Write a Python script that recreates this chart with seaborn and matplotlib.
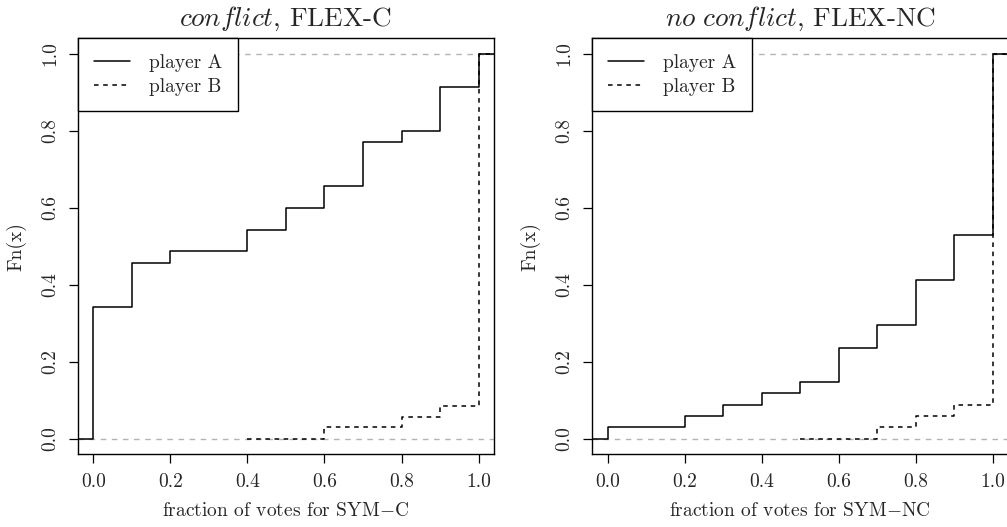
import pandas as pd
import matplotlib.pyplot as plt
import seaborn as sns
from matplotlib.lines import Line2D

conf_a_knots = [0.0, 0.1, 0.2, 0.4, 0.5, 0.6, 0.7, 0.8, 0.9, 1.0]
conf_a_fn = [0.343, 0.457, 0.486, 0.543, 0.600, 0.657, 0.771, 0.800, 0.914, 1.0]
conf_b_knots = [0.6, 0.8, 0.9, 1.0]
conf_b_fn = [0.029, 0.057, 0.086, 1.0]
conf_b_start = 0.4

noconf_a_knots = [0.0, 0.2, 0.3, 0.4, 0.5, 0.6, 0.7, 0.8, 0.9, 1.0]
noconf_a_fn = [0.029, 0.059, 0.088, 0.118, 0.147, 0.235, 0.294, 0.412, 0.529, 1.0]
noconf_b_knots = [0.7, 0.8, 0.9, 1.0]
noconf_b_fn = [0.029, 0.059, 0.088, 1.0]
noconf_b_start = 0.5

titles = [r'$\mathit{conflict}$, FLEX-C', r'$\mathit{no\ conflict}$, FLEX-NC']
xlabels = ['fraction of votes for SYM$-$C', 'fraction of votes for SYM$-$NC']
ticks = [0.0, 0.2, 0.4, 0.6, 0.8, 1.0]
tick_labels = ['0.0', '0.2', '0.4', '0.6', '0.8', '1.0']

XLIM = (-0.04, 1.04)
YLIM = (-0.04, 1.04)


def step_frame(knots, fn, start):
    # horizontal at 0 from start, then the steps, carried on to the right edge
    xs = [start] + knots + [XLIM[1]]
    ys = [0.0] + fn + [fn[-1]]
    return pd.DataFrame({'x': xs, 'Fn': ys})


sns.set_theme(style='ticks')
plt.rcParams['font.family'] = 'cmr10'
plt.rcParams['mathtext.fontset'] = 'cm'
plt.rcParams['axes.unicode_minus'] = False
plt.rcParams['axes.formatter.use_mathtext'] = True

fig = plt.figure(figsize=(10.07, 5.27), dpi=100)
positions = [[0.0775, 0.1385, 0.413, 0.789], [0.588, 0.1385, 0.413, 0.789]]

panels = [
    (conf_a_knots, conf_a_fn, conf_b_knots, conf_b_fn, conf_b_start),
    (noconf_a_knots, noconf_a_fn, noconf_b_knots, noconf_b_fn, noconf_b_start),
]

for i, (ak, af, bk, bf, bs) in enumerate(panels):
    ax = fig.add_axes(positions[i])
    ax.axhline(0, color='#b3b3b3', lw=1, ls=(0, (4, 4)), zorder=1)
    ax.axhline(1, color='#b3b3b3', lw=1, ls=(0, (4, 4)), zorder=1)

    df_a = step_frame(ak, af, XLIM[0])
    df_b = step_frame(bk, bf, bs)
    sns.lineplot(data=df_a, x='x', y='Fn', ax=ax, color='black', lw=1.1,
                 drawstyle='steps-post', sort=False, zorder=3)
    sns.lineplot(data=df_b, x='x', y='Fn', ax=ax, color='black', lw=1.1,
                 drawstyle='steps-post', sort=False, zorder=3,
                 linestyle=(0, (3, 3)))

    ax.set_xlim(XLIM)
    ax.set_ylim(YLIM)
    ax.set_xticks(ticks)
    ax.set_xticklabels(tick_labels)
    ax.set_yticks(ticks)
    ax.set_yticklabels(tick_labels, rotation=90, va='center')
    ax.tick_params(direction='out', length=6.5, width=0.9, labelsize=14,
                   color='black', pad=7)
    for sp in ax.spines.values():
        sp.set_visible(True)
        sp.set_color('black')
        sp.set_linewidth(1)

    ax.set_title(titles[i], fontsize=19.6, pad=9)
    ax.set_xlabel(xlabels[i], fontsize=14, labelpad=8)
    ax.set_ylabel('Fn(x)', fontsize=14, labelpad=11)

    handles = [Line2D([], [], color='black', lw=1.1),
               Line2D([], [], color='black', lw=1.1, ls=(0, (3, 3)))]
    leg = ax.legend(handles, ['player A', 'player B'], loc='upper left',
                    borderaxespad=0, fancybox=False, framealpha=1,
                    edgecolor='black', fontsize=14, handlelength=1.85,
                    borderpad=0.8, labelspacing=0.3, handletextpad=1.0)
    leg.get_frame().set_linewidth(1)

fig.savefig('out.png', dpi=100)
